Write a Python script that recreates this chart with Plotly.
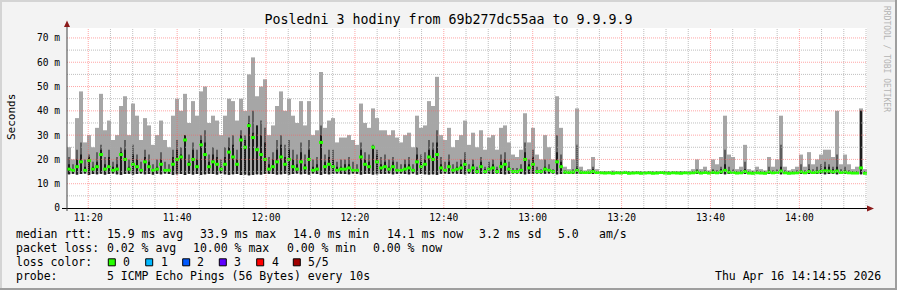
import plotly.graph_objects as go
import pandas as pd

W, H = 897, 290
L, R, T, B = 67, 30, 28, 82
PW, PH = W - L - R, H - T - B

T_START = "2026-04-16 11:15:13"
T_END = "2026-04-16 14:15:13"
STEP_S = 54
Y_MAX = 74.1

title_text = "Posledni 3 hodiny from 69b277dc55aa to 9.9.9.9"
y_tick_vals = [0, 10, 20, 30, 40, 50, 60, 70]
y_tick_text = ["0", "10 m", "20 m", "30 m", "40 m", "50 m", "60 m", "70 m"]

# top of lightest smoke (max ping), ms
hi_ms = [
    25, 20, 37, 48, 27, 30, 25, 33, 47, 32,
    36, 28, 30, 42, 46, 30, 43, 38, 28, 37,
    34, 26, 30, 36, 28, 25, 38, 45, 40, 47,
    35, 44, 38, 48, 50, 35, 38, 36, 30, 38,
    45, 44, 36, 45, 40, 55, 62, 46, 50, 53,
    30, 34, 42, 48, 40, 45, 38, 35, 44, 34,
    44, 30, 32, 56, 33, 36, 37, 27, 29, 29,
    30, 28, 26, 43, 35, 33, 41, 37, 32, 32,
    30, 32, 29, 27, 30, 31, 25, 38, 33, 34,
    44, 42, 54, 30, 28, 33, 25, 28, 30, 36,
    26, 31, 25, 32, 24, 29, 30, 24, 33, 34,
    27, 22, 21, 24, 39, 27, 33, 22, 20, 30,
    25, 20, 46, 33, 17, 16, 20, 41, 17, 15.5,
    16, 21, 16, 15, 15.2, 15, 15.4, 15, 15.1, 15.3,
    15, 15, 15.2, 15, 14.9, 15.2, 15, 15.1, 15, 15.3,
    15, 15.1, 15, 15.2, 15, 15.3, 16, 20, 16, 17,
    15.5, 20, 18, 21, 38, 22, 21, 16, 17, 26,
    16, 15.5, 17, 16, 15.5, 21, 17, 20, 38, 17,
    15.5, 16, 17, 22, 17, 23, 18, 20, 22, 24,
    24, 21, 40, 18, 22, 18, 16, 17, 41, 16,
]

# top of darker smoke, ms
dark_ms = [
    21, 18, 24, 27, 20, 22, 19, 23, 26, 21,
    24, 19, 21, 25, 28, 20, 26, 22, 19, 24,
    22, 18, 20, 23, 19, 18, 24, 28, 25, 30,
    22, 27, 24, 30, 32, 22, 25, 24, 20, 25,
    29, 30, 24, 32, 30, 38, 40, 34, 36, 33,
    21, 23, 28, 30, 26, 28, 24, 22, 27, 22,
    28, 20, 21, 34, 22, 24, 24, 19, 20, 20,
    21, 19, 18, 27, 23, 22, 26, 24, 21, 22,
    20, 21, 19, 18, 20, 21, 18, 25, 22, 23,
    28, 27, 32, 21, 19, 22, 18, 19, 20, 23,
    18, 20, 17, 21, 17, 19, 20, 17, 22, 23,
    19, 16.5, 16.5, 18, 27, 20, 24, 17, 16, 20,
    18, 16, 30, 22, 15.5, 15, 16, 26, 15.5, 15,
    15, 17, 15, 14.8, 14.8, 14.8, 14.8, 14.8, 14.8, 14.8,
    14.8, 14.8, 14.8, 14.8, 14.8, 14.8, 14.8, 14.8, 14.8, 14.8,
    14.8, 14.8, 14.8, 14.8, 14.8, 14.8, 15, 16, 15, 15.5,
    15, 16, 15.5, 17, 24, 17, 16, 15, 15.5, 19,
    15, 15, 15.5, 15, 15, 17, 15.5, 16, 26, 15.5,
    15, 15, 15.5, 18, 15.5, 18, 16, 17, 18, 19,
    18, 17, 22, 16, 17, 15.5, 15, 15, 40, 15,
]

# top of darkest (core) smoke, ms
core_ms = [
    18, 16, 20, 22, 17, 21, 17, 19, 24, 18,
    21, 17, 18, 23, 24, 17, 22, 20, 16, 21,
    19, 16, 17, 20, 16, 16, 21, 24, 22, 30,
    19, 24, 20, 28, 27, 19, 22, 21, 17, 21,
    25, 26, 20, 30, 28, 35, 31, 34, 30, 27,
    18, 20, 24, 26, 21, 24, 20, 18, 23, 18,
    24, 17, 18, 30, 19, 21, 20, 17, 17, 18,
    18, 16, 16, 24, 20, 19, 25, 22, 18, 19,
    17, 19, 16, 16, 18, 18, 16, 22, 19, 20,
    24, 24, 27, 18, 16, 19, 16, 17, 18, 20,
    16, 18, 16, 19, 16, 17, 18, 16, 19, 20,
    17, 15.5, 15.5, 16, 23, 18, 21, 15.5, 15.5, 17,
    16, 15.5, 23, 19, 15, 15, 15, 17, 15, 15,
    15, 16, 15, 15, 15, 15, 15, 15, 15, 15,
    15, 15, 15, 15, 15, 15, 15, 15, 15, 15,
    15, 15, 15, 15, 15, 15, 15, 15.5, 15, 15,
    15, 15.5, 15, 16, 18, 15.5, 15, 15, 15, 16,
    15, 15, 15, 15, 15, 15.5, 15, 15, 17, 15,
    15, 15, 15, 15.5, 15, 16, 15, 15.5, 16, 17,
    17, 16, 17, 15, 15.5, 15, 15, 15, 40, 15,
]

# median rtt, ms
median_ms = [
    16, 15.5, 17, 19, 15.5, 19.5, 16, 17, 22, 16,
    17, 15.5, 16, 22, 20, 16, 18, 17, 15.5, 19,
    17, 15.5, 16, 18, 15.5, 15.5, 18, 20, 21, 28,
    18, 20, 17, 26, 22, 17, 19, 18, 16, 18,
    23, 21, 18, 28, 25, 33.9, 29, 24, 22, 20,
    16, 17, 19, 21, 18, 20, 17, 16, 19, 16.5,
    20, 15.5, 16, 27, 17, 18, 17, 15.5, 16, 16,
    16.5, 15.5, 15.5, 21, 18, 17, 25, 19, 16.5, 17,
    16, 17, 15.5, 15.5, 16, 16.5, 15.5, 19, 17, 18,
    21, 20, 22, 16.5, 15.5, 17, 15.5, 16, 16.5, 18,
    15.5, 16.5, 15, 17, 15, 16, 16.5, 15, 17, 18,
    16, 15, 15, 15.5, 20, 16.5, 18, 15, 15, 16,
    15.5, 15, 19, 17, 14.8, 14.7, 14.8, 15.5, 14.7, 14.6,
    14.7, 15, 14.6, 14.5, 14.4, 14.5, 14.3, 14.5, 14.4, 14.6,
    14.3, 14.4, 14.5, 14.3, 14.4, 14.5, 14.3, 14.4, 14.6, 14.4,
    14.3, 14.5, 14.4, 14.3, 14.5, 14.4, 14.5, 14.8, 14.4, 14.6,
    14.4, 14.7, 14.5, 14.9, 15.5, 14.8, 14.6, 14.4, 14.5, 15,
    14.4, 14.3, 14.5, 14.4, 14.3, 14.8, 14.5, 14.6, 15.2, 14.5,
    14.3, 14.4, 14.5, 14.9, 14.5, 15, 14.6, 14.8, 15.1, 15.3,
    15.2, 14.9, 15.2, 14.6, 14.8, 14.5, 14.4, 14.4, 16.5, 14.3,
]

# bottom of smoke (min ping), ms
lo_ms = [
    13.9, 14.1, 13.8, 14.0, 14.2, 13.7, 14.0, 13.9, 14.1, 13.8,
    14.0, 14.2, 13.9, 13.7, 14.0, 14.1, 13.8, 14.0, 14.2, 13.9,
    14.0, 13.8, 14.1, 13.9, 14.2, 14.0, 13.7, 13.9, 14.0, 13.6,
    14.1, 13.8, 14.0, 13.7, 13.9, 14.1, 14.0, 13.8, 14.2, 13.9,
    13.7, 13.9, 14.0, 13.6, 13.8, 13.5, 13.7, 13.9, 13.8, 14.0,
    14.1, 14.0, 13.8, 13.9, 14.1, 13.8, 14.0, 14.2, 13.9, 14.1,
    13.8, 14.2, 14.0, 13.7, 14.1, 13.9, 14.0, 14.2, 14.1, 14.0,
    13.9, 14.2, 14.1, 13.8, 14.0, 14.1, 13.8, 13.9, 14.1, 14.0,
    14.2, 13.9, 14.1, 14.2, 14.0, 13.9, 14.2, 13.8, 14.0, 13.9,
    13.8, 13.9, 13.7, 14.1, 14.2, 14.0, 14.2, 14.1, 14.0, 13.9,
    14.2, 14.0, 14.2, 14.0, 14.2, 14.1, 14.0, 14.2, 14.0, 13.9,
    14.1, 14.2, 14.2, 14.1, 13.9, 14.1, 14.0, 14.2, 14.2, 14.1,
    14.2, 14.2, 13.9, 14.0, 14.1, 14.1, 14.1, 14.0, 14.1, 14.1,
    14.1, 14.0, 14.1, 14.1, 14.0, 14.1, 14.0, 14.1, 14.0, 14.1,
    14.0, 14.1, 14.1, 14.0, 14.0, 14.1, 14.0, 14.1, 14.1, 14.0,
    14.0, 14.1, 14.0, 14.0, 14.1, 14.0, 14.1, 14.0, 14.1, 14.0,
    14.1, 14.0, 14.1, 14.0, 13.9, 14.0, 14.1, 14.0, 14.1, 14.0,
    14.1, 14.0, 14.1, 14.0, 14.1, 14.0, 14.1, 14.0, 13.9, 14.1,
    14.0, 14.1, 14.0, 14.0, 14.1, 14.0, 14.1, 14.0, 14.0, 13.9,
    14.0, 14.1, 13.9, 14.0, 14.0, 14.1, 14.0, 14.1, 13.9, 14.0,
]

loss_labels = ["0", "1", "2", "3", "4", "5/5"]
loss_colors = ["#26ff00", "#00b8ff", "#0059ff", "#5e00ff", "#ff0000", "#a00000"]

legend_rows = [
    [("median rtt:", 16), ("15.9 ms avg", 107.3), ("33.9 ms max", 200.0),
     ("14.0 ms min", 293.3), ("14.1 ms now", 386.7), ("3.2 ms sd", 479.3),
     ("5.0", 558.3), ("am/s", 599.3)],
    [("packet loss:", 16), ("0.02 % avg", 107.3), ("10.00 % max", 193.3),
     ("0.00 % min", 286.7), ("0.00 % now", 372.7)],
    [("loss color:", 16)],
    [("probe:", 16), ("5 ICMP Echo Pings (56 Bytes) every 10s", 107.3)],
]
legend_row_y = [234.3, 248.3, 262.3, 276.3]
loss_box_x = [108.3, 145.7, 182.7, 219.3, 256.7, 293.3]
loss_label_x = [123.3, 161.0, 197.3, 234.3, 271.7, 308.3]
stamp_text = "Thu Apr 16 14:14:55 2026"

n = len(hi_ms)
for arr in (dark_ms, core_ms, median_ms, lo_ms):
    assert len(arr) == n

times = pd.date_range(T_START, periods=n, freq=f"{STEP_S}s")
step_ms = STEP_S * 1000

MONO = "DejaVu Sans Mono"


def px(xp):
    return (xp - L) / PW


def py(yp):
    return (H - B - yp) / PH


fig = go.Figure()
fig.add_trace(go.Bar(
    x=times, y=[h - l for h, l in zip(hi_ms, lo_ms)], base=lo_ms,
    width=step_ms, offset=0, marker=dict(color="#a6a6a6", line_width=0),
    hoverinfo="skip", showlegend=False))
fig.add_trace(go.Bar(
    x=times, y=[d - l for d, l in zip(dark_ms, lo_ms)], base=lo_ms,
    width=step_ms * 0.5, offset=step_ms * 0.25,
    marker=dict(color="#5e5e5e", line_width=0),
    hoverinfo="skip", showlegend=False))
fig.add_trace(go.Bar(
    x=times, y=[c - l for c, l in zip(core_ms, lo_ms)], base=lo_ms,
    width=step_ms * 0.25, offset=step_ms * 0.4,
    marker=dict(color="#1c1c1c", line_width=0),
    hoverinfo="skip", showlegend=False))

mx, my = [], []
for t, m in zip(times, median_ms):
    mx += [t, t + pd.Timedelta(seconds=STEP_S), None]
    my += [m, m, None]
fig.add_trace(go.Scatter(x=mx, y=my, mode="lines",
                         line=dict(color=loss_colors[0], width=3),
                         hoverinfo="skip", showlegend=False))

shapes = []
# grid drawn over data, like rrdtool
for t in pd.date_range("2026-04-16 11:20", "2026-04-16 14:15", freq="5min"):
    major = t.minute % 20 == 0
    shapes.append(dict(type="line", xref="x", yref="paper", x0=t, x1=t, y0=0, y1=1,
                       layer="above",
                       line=dict(color="rgba(255,92,92,0.55)" if major else "rgba(170,170,170,0.75)",
                                 width=1, dash="1px,1px")))
for v in range(5, 75, 5):
    major = v % 10 == 0
    shapes.append(dict(type="line", xref="paper", yref="y", x0=0, x1=1, y0=v, y1=v,
                       layer="above",
                       line=dict(color="rgba(255,92,92,0.55)" if major else "rgba(170,170,170,0.75)",
                                 width=1, dash="1px,1px")))

# axes and arrows
shapes.append(dict(type="line", xref="paper", yref="paper", x0=px(62), x1=px(870),
                   y0=py(208.5), y1=py(208.5), layer="above", line=dict(color="#000", width=1)))
shapes.append(dict(type="line", xref="paper", yref="paper", x0=px(67), x1=px(67),
                   y0=py(211), y1=py(25), layer="above", line=dict(color="#404040", width=1)))
shapes.append(dict(type="path", xref="paper", yref="paper", layer="above",
                   path=f"M {px(867)} {py(205.5)} L {px(874)} {py(208.5)} L {px(867)} {py(211.5)} Z",
                   fillcolor="#8b1a1a", line=dict(width=0)))
shapes.append(dict(type="path", xref="paper", yref="paper", layer="above",
                   path=f"M {px(64)} {py(27)} L {px(67)} {py(20.5)} L {px(70)} {py(27)} Z",
                   fillcolor="#8b1a1a", line=dict(width=0)))

# image frame
shapes.append(dict(type="line", xref="paper", yref="paper", x0=px(0), x1=px(W),
                   y0=py(1), y1=py(1), line=dict(color="#d4d4d4", width=2)))
shapes.append(dict(type="line", xref="paper", yref="paper", x0=px(1), x1=px(1),
                   y0=py(0), y1=py(H), line=dict(color="#d4d4d4", width=2)))
shapes.append(dict(type="line", xref="paper", yref="paper", x0=px(0), x1=px(W),
                   y0=py(H - 1), y1=py(H - 1), line=dict(color="#9e9e9e", width=2)))
shapes.append(dict(type="line", xref="paper", yref="paper", x0=px(W - 1), x1=px(W - 1),
                   y0=py(0), y1=py(H), line=dict(color="#9e9e9e", width=2)))

# loss colour boxes
for bx, col in zip(loss_box_x, loss_colors):
    shapes.append(dict(type="rect", xref="paper", yref="paper",
                       x0=px(bx), x1=px(bx + 7), y0=py(258.8), y1=py(265.8),
                       fillcolor=col, line=dict(color="#000", width=1)))

annotations = []


def ann(text, xp, yp, size=11.5, anchor="left", color="#000", angle=0, family=MONO):
    annotations.append(dict(text=text, xref="paper", yref="paper", x=px(xp), y=py(yp),
                            xanchor=anchor, yanchor="middle", showarrow=False,
                            borderpad=0, borderwidth=0, textangle=angle,
                            font=dict(family=family, size=size, color=color)))


for row, yrow in zip(legend_rows, legend_row_y):
    for txt, xs in row:
        ann(txt, xs, yrow)
for lx, lab in zip(loss_label_x, loss_labels):
    ann(lab, lx, legend_row_y[2])
ann(stamp_text, 880.5, legend_row_y[3], anchor="right")
ann("Seconds", 11, 117, size=11, anchor="center", angle=-90)
ann("RRDTOOL / TOBI OETIKER", 887, 59, size=8, anchor="center", angle=90, color="#b4b4b4")

fig.update_layout(
    width=W, height=H,
    margin=dict(l=L, r=R, t=T, b=B, pad=0),
    paper_bgcolor="#f3f3f3", plot_bgcolor="#ffffff",
    barmode="overlay",
    title=dict(text=title_text, x=0.5, xref="container", xanchor="center",
               y=1 - 19.5 / H, yref="container", yanchor="middle",
               font=dict(family=MONO, size=13.3, color="#000")),
    xaxis=dict(type="date", range=[T_START, T_END], showgrid=False, zeroline=False,
               showline=False, ticks="", tick0="2026-04-16 11:00:00", dtick=20 * 60 * 1000,
               tickformat="%H:%M", ticklabelstandoff=2,
               tickfont=dict(family=MONO, size=9.6, color="#000")),
    yaxis=dict(range=[0, Y_MAX], showgrid=False, zeroline=False, showline=False,
               ticks="", tickvals=y_tick_vals, ticktext=y_tick_text, ticklabelstandoff=6,
               tickfont=dict(family=MONO, size=9.6, color="#000")),
    shapes=shapes, annotations=annotations,
)

fig.write_html("out.html")
